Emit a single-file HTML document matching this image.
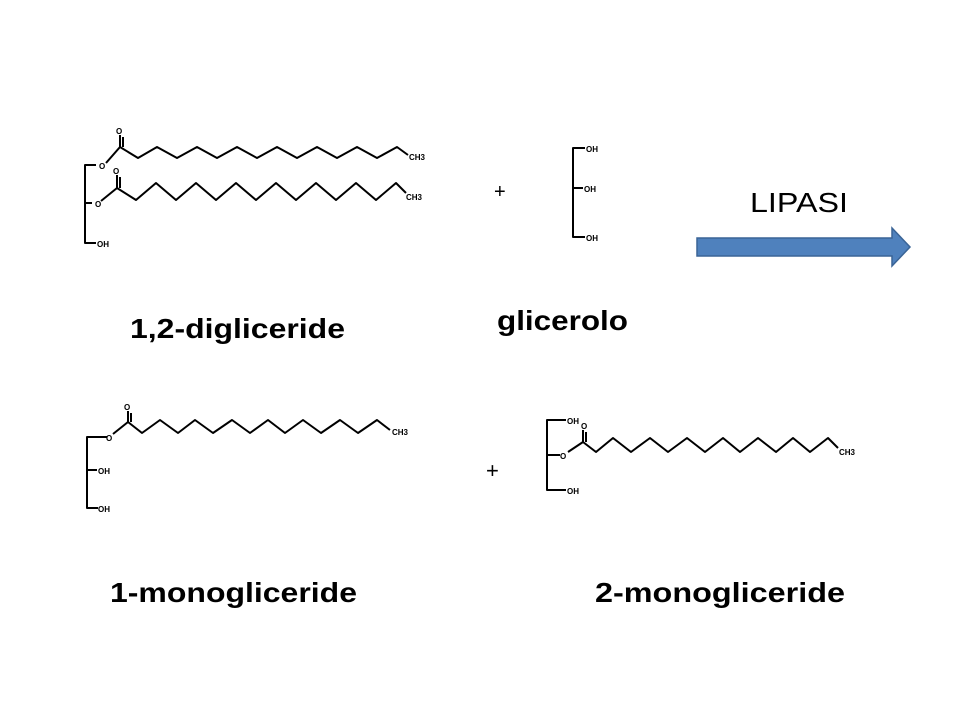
<!DOCTYPE html>
<html><head><meta charset="utf-8"><style>
html,body{margin:0;padding:0;background:#fff}
svg{display:block}
.t{font-family:"Liberation Sans",sans-serif;font-weight:bold;font-size:28px;fill:#000}
.s{font-family:"Liberation Sans",sans-serif;font-weight:bold;font-size:8px;fill:#000}
</style></head><body>
<svg width="960" height="720" viewBox="0 0 960 720" xmlns="http://www.w3.org/2000/svg">
<g fill="none" stroke="#000" stroke-width="2" stroke-linejoin="round">
<polyline points="96,243 85,243 85,165 96,165"/>
<line x1="85" y1="203" x2="92" y2="203"/>
<line x1="106" y1="163" x2="120" y2="147"/>
<line x1="120" y1="147" x2="120" y2="135"/><line x1="123" y1="147" x2="123" y2="137"/>
<polyline points="120,147 138,158 157,147 177,158 197,147 217,158 237,147 257,158 277,147 297,158 317,147 337,158 357,147 377,158 397,147 408,155"/>
<line x1="101" y1="201" x2="117" y2="188"/>
<line x1="117" y1="188" x2="117" y2="175"/><line x1="120" y1="188" x2="120" y2="177"/>
<polyline points="117,188 136,200 156,183 176,200 196,183 216,200 236,183 256,200 276,183 296,200 316,183 336,200 356,183 376,200 396,183 406,193"/>
<polyline points="585,148 573,148 573,237 585,237"/>
<line x1="573" y1="188" x2="583" y2="188"/>
<polyline points="98,508 87,508 87,437 107,437"/>
<line x1="87" y1="470" x2="97" y2="470"/>
<line x1="113" y1="434" x2="128" y2="422"/>
<line x1="128" y1="422" x2="128" y2="411"/><line x1="131" y1="422" x2="131" y2="413"/>
<polyline points="128,422 142,433 160,420 178,433 195,420 213,433 232,420 250,433 268,420 285,433 303,420 321,433 340,420 358,433 377,420 390,430"/>
<polyline points="566,420 547,420 547,490 566,490"/>
<line x1="547" y1="455" x2="560" y2="455"/>
<line x1="568" y1="452" x2="583" y2="442"/>
<line x1="583" y1="442" x2="583" y2="430"/><line x1="586" y1="442" x2="586" y2="432"/>
<polyline points="583,442 596,452 613,438 631,452 650,438 668,452 687,438 705,452 723,438 740,452 758,438 776,452 793,438 810,452 828,438 838,448"/>
</g>
<g class="s">
<text x="116" y="134">O</text><text x="99" y="169">O</text><text x="113" y="174">O</text><text x="95" y="207">O</text>
<text x="97" y="247">OH</text><text x="409" y="160">CH3</text><text x="406" y="200">CH3</text>
<text x="586" y="152">OH</text><text x="584" y="192">OH</text><text x="586" y="241">OH</text>
<text x="124" y="410">O</text><text x="106" y="441">O</text><text x="98" y="474">OH</text><text x="98" y="512">OH</text><text x="392" y="435">CH3</text>
<text x="567" y="424">OH</text><text x="560" y="459">O</text><text x="581" y="429">O</text><text x="567" y="494">OH</text><text x="839" y="455">CH3</text>
</g>
<text x="494" y="198" font-family="Liberation Sans,sans-serif" font-size="20">+</text>
<text x="486" y="478" font-family="Liberation Sans,sans-serif" font-size="22">+</text>
<text class="t" x="130" y="338" textLength="215" lengthAdjust="spacingAndGlyphs">1,2-digliceride</text>
<text class="t" x="497" y="330" textLength="131" lengthAdjust="spacingAndGlyphs">glicerolo</text>
<text class="t" x="110" y="602" textLength="247" lengthAdjust="spacingAndGlyphs">1-monogliceride</text>
<text class="t" x="595" y="602" textLength="250" lengthAdjust="spacingAndGlyphs">2-monogliceride</text>
<text x="750" y="212" font-family="Liberation Sans,sans-serif" font-size="28" fill="#000" textLength="98" lengthAdjust="spacingAndGlyphs">LIPASI</text>
<polygon points="697,238 892,238 892,228 910,247 892,266 892,256 697,256" fill="#4f81bd" stroke="#3a6496" stroke-width="1.5"/>
</svg>
</body></html>
